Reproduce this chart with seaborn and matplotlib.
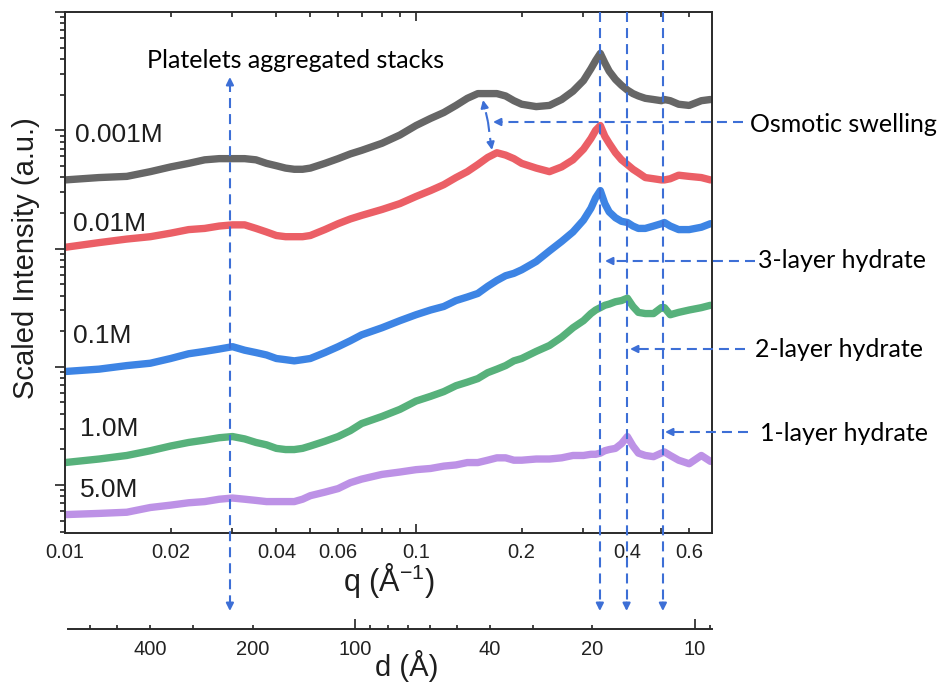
import numpy as np
import pandas as pd
import matplotlib
matplotlib.use("Agg")
import matplotlib.pyplot as plt
import seaborn as sns
from matplotlib.ticker import FixedLocator, FixedFormatter, LogLocator, NullFormatter
from matplotlib.transforms import blended_transform_factory

# ---------------- data ----------------
q = [0.0100, 0.0125, 0.0150, 0.0175, 0.020, 0.0225, 0.025, 0.0275, 0.030, 0.0325,
     0.035, 0.0375, 0.040, 0.0425, 0.045, 0.0475, 0.050, 0.055, 0.060, 0.065,
     0.070, 0.080, 0.090, 0.100, 0.110, 0.120, 0.130, 0.140, 0.150, 0.160,
     0.170, 0.180, 0.190, 0.200, 0.220, 0.240, 0.260, 0.280, 0.300, 0.315,
     0.325, 0.335, 0.345, 0.355, 0.370, 0.385, 0.400, 0.415, 0.430, 0.450,
     0.475, 0.500, 0.510, 0.530, 0.560, 0.600, 0.650, 0.690]

# log10 of scaled intensity (a.u.)
log_I_0001M = [2.58, 2.60, 2.61, 2.65, 2.69, 2.72, 2.75, 2.76, 2.76, 2.76,
               2.75, 2.72, 2.70, 2.68, 2.67, 2.67, 2.68, 2.72, 2.76, 2.80,
               2.83, 2.89, 2.96, 3.04, 3.10, 3.15, 3.21, 3.27, 3.31, 3.31,
               3.31, 3.29, 3.25, 3.22, 3.20, 3.21, 3.26, 3.33, 3.42, 3.52,
               3.59, 3.65, 3.57, 3.50, 3.43, 3.38, 3.34, 3.31, 3.29, 3.27,
               3.26, 3.25, 3.26, 3.25, 3.22, 3.21, 3.25, 3.26]
log_I_001M = [2.01, 2.05, 2.08, 2.10, 2.13, 2.16, 2.17, 2.19, 2.20, 2.20,
              2.17, 2.14, 2.11, 2.10, 2.10, 2.10, 2.11, 2.16, 2.21, 2.25,
              2.28, 2.33, 2.38, 2.44, 2.49, 2.54, 2.60, 2.65, 2.71, 2.77,
              2.81, 2.79, 2.76, 2.72, 2.68, 2.65, 2.69, 2.75, 2.84, 2.93,
              3.00, 3.04, 2.95, 2.89, 2.81, 2.75, 2.71, 2.67, 2.64, 2.60,
              2.59, 2.58, 2.58, 2.59, 2.62, 2.61, 2.60, 2.58]
log_I_01M = [0.96, 0.98, 1.01, 1.03, 1.07, 1.11, 1.13, 1.15, 1.17, 1.14,
             1.12, 1.10, 1.07, 1.06, 1.05, 1.06, 1.07, 1.12, 1.17, 1.22,
             1.27, 1.33, 1.39, 1.44, 1.48, 1.51, 1.56, 1.59, 1.62, 1.68,
             1.73, 1.77, 1.79, 1.82, 1.89, 1.98, 2.06, 2.14, 2.24, 2.34,
             2.43, 2.49, 2.38, 2.31, 2.26, 2.23, 2.22, 2.19, 2.17, 2.17,
             2.19, 2.21, 2.22, 2.19, 2.16, 2.16, 2.18, 2.21]
log_I_1M = [0.19, 0.22, 0.25, 0.29, 0.33, 0.36, 0.38, 0.40, 0.41, 0.39,
            0.36, 0.34, 0.31, 0.30, 0.30, 0.31, 0.33, 0.37, 0.41, 0.46,
            0.52, 0.58, 0.64, 0.71, 0.75, 0.79, 0.84, 0.87, 0.90, 0.95,
            0.98, 1.01, 1.05, 1.07, 1.13, 1.18, 1.25, 1.33, 1.39, 1.45,
            1.48, 1.50, 1.52, 1.53, 1.55, 1.56, 1.58, 1.51, 1.46, 1.45,
            1.45, 1.50, 1.50, 1.44, 1.46, 1.48, 1.50, 1.52]
log_I_5M = [-0.25, -0.24, -0.23, -0.19, -0.17, -0.15, -0.14, -0.12, -0.11, -0.12,
            -0.13, -0.14, -0.14, -0.14, -0.14, -0.12, -0.09, -0.06, -0.03, 0.02,
            0.05, 0.09, 0.11, 0.13, 0.14, 0.16, 0.17, 0.19, 0.19, 0.21,
            0.23, 0.23, 0.21, 0.21, 0.22, 0.22, 0.23, 0.25, 0.25, 0.26,
            0.26, 0.27, 0.29, 0.30, 0.31, 0.35, 0.41, 0.33, 0.27, 0.25,
            0.24, 0.27, 0.28, 0.25, 0.21, 0.18, 0.25, 0.20]

samples = ["0.001M", "0.01M", "0.1M", "1.0M", "5.0M"]
colors = ["#4b4b4b", "#e8434b", "#1b6fe0", "#39a464", "#b27fe2"]

q_ticks_major = [0.01, 0.1]
q_major_labels = ["0.01", "0.1"]
q_ticks_minor = [0.02, 0.03, 0.04, 0.05, 0.06, 0.07, 0.08, 0.09, 0.2, 0.3, 0.4, 0.5, 0.6]
q_minor_labels = ["0.02", "", "0.04", "", "0.06", "", "", "", "0.2", "", "0.4", "", "0.6"]
d_ticks_major = [10, 100]
d_major_labels = ["10", "100"]
d_ticks_minor = [9, 20, 30, 40, 50, 60, 70, 80, 90, 200, 300, 400, 500, 600]
d_minor_labels = ["", "20", "", "40", "", "", "", "", "", "200", "", "400", "", ""]
q_limits = (0.01, 0.697)
I_limits = (0.393, 1e4)
d_limits = (698, 8.9)

platelet_q = 0.0295
hydrate_q = {"3-layer": 0.334, "2-layer": 0.398, "1-layer": 0.505}

logs = [log_I_0001M, log_I_001M, log_I_01M, log_I_1M, log_I_5M]
df = pd.concat([pd.DataFrame({"q": q, "intensity": np.power(10.0, v), "sample": s})
                for s, v in zip(samples, logs)], ignore_index=True)

# ---------------- style ----------------
sns.set_theme(style="ticks")
plt.rcParams["font.family"] = ["Liberation Sans", "DejaVu Sans"]
plt.rcParams["mathtext.fontset"] = "custom"
plt.rcParams["mathtext.rm"] = "Liberation Sans"
plt.rcParams["mathtext.default"] = "regular"

W, H = 941, 684
fig = plt.figure(figsize=(W / 100, H / 100), dpi=100)
fig.patch.set_facecolor("white")

ax = fig.add_axes([65 / W, 1 - 533 / H, 647 / W, 521 / H])
sns.lineplot(data=df, x="q", y="intensity", hue="sample", hue_order=samples,
             palette=colors, linewidth=5.3, alpha=0.85, estimator=None, sort=False,
             legend=False, ax=ax)
for ln in ax.get_lines():
    ln.set_solid_joinstyle("round")
    ln.set_solid_capstyle("round")

ax.set_xscale("log")
ax.set_yscale("log")
ax.set_xlim(q_limits)
ax.set_ylim(I_limits)
ax.set_xlabel("")
ax.set_ylabel("")

ax.xaxis.set_major_locator(FixedLocator(q_ticks_major))
ax.xaxis.set_major_formatter(FixedFormatter(q_major_labels))
ax.xaxis.set_minor_locator(FixedLocator(q_ticks_minor))
ax.xaxis.set_minor_formatter(FixedFormatter(q_minor_labels))
ax.tick_params(axis="x", which="both", direction="in", top=True, bottom=True,
               labelsize=14.5, pad=7, colors="#222222", width=1.2)
ax.tick_params(axis="x", which="major", length=6.5)
ax.tick_params(axis="x", which="minor", length=3.6)

ax.yaxis.set_major_locator(LogLocator(base=10, numticks=12))
ax.yaxis.set_minor_locator(LogLocator(base=10, subs=np.arange(2, 10), numticks=12))
ax.yaxis.set_major_formatter(NullFormatter())
ax.yaxis.set_minor_formatter(NullFormatter())
ax.tick_params(axis="y", which="both", direction="out", left=True, right=False,
               labelleft=False, colors="#222222", width=1.2)
ax.tick_params(axis="y", which="major", length=7.2)
ax.tick_params(axis="y", which="minor", length=3.6)
for sp in ax.spines.values():
    sp.set_linewidth(1.4)
    sp.set_color("#2a2a2a")

# ---------------- secondary d axis ----------------
axd = fig.add_axes([68 / W, 1 - 629 / H, 644 / W, 8 / H])
axd.set_xscale("log")
axd.set_xlim(d_limits)
axd.set_ylim(0, 1)
axd.patch.set_visible(False)
for s in ["top", "left", "right"]:
    axd.spines[s].set_visible(False)
axd.spines["bottom"].set_linewidth(1.4)
axd.spines["bottom"].set_color("#2a2a2a")
axd.yaxis.set_visible(False)
axd.xaxis.set_major_locator(FixedLocator(d_ticks_major))
axd.xaxis.set_major_formatter(FixedFormatter(d_major_labels))
axd.xaxis.set_minor_locator(FixedLocator(d_ticks_minor))
axd.xaxis.set_minor_formatter(FixedFormatter(d_minor_labels))
axd.tick_params(axis="x", which="both", direction="in", labelsize=14.5, pad=8,
                colors="#222222", width=1.2)
axd.tick_params(axis="x", which="major", length=7.2)
axd.tick_params(axis="x", which="minor", length=3.0)

# ---------------- overlay for annotations (pixel coordinates) ----------------
ov = fig.add_axes([0, 0, 1, 1], zorder=10)
ov.set_xlim(0, W)
ov.set_ylim(H, 0)
ov.set_autoscale_on(False)
ov.axis("off")
bt = blended_transform_factory(ax.transData, ov.transData)

acol = "#3d6fd6"
dash = (0, (4.8, 2.9))
anno_font = ["Lato", "DejaVu Sans"]


def dashed(xs, ys, transform=None):
    ov.plot(xs, ys, color=acol, lw=1.5, ls=dash, transform=transform or ov.transData,
            solid_capstyle="butt", dash_capstyle="butt", clip_on=False)


def head(x, y, dx, dy, coords=None):
    ov.annotate("", xy=(x, y), xycoords=coords or ov.transData,
                xytext=(dx, dy), textcoords="offset points",
                arrowprops=dict(arrowstyle="-|>", color=acol, lw=1.5,
                                mutation_scale=11, shrinkA=0, shrinkB=0))


# vertical hydrate lines
for name, qv in hydrate_q.items():
    dashed([qv, qv], [12, 606], transform=bt)
    head(qv, 611, 0, 6, coords=bt)

# platelets double arrow
dashed([platelet_q, platelet_q], [82, 606], transform=bt)
head(platelet_q, 77, 0, -6, coords=bt)
head(platelet_q, 611, 0, 6, coords=bt)

# horizontal arrows
dashed([743, 497], [122, 122])
head(493, 122, 6, 0)
dashed([755, 609], [261, 261])
head(605, 261, 6, 0)
dashed([745, 634], [349, 349])
head(630, 349, 6, 0)
dashed([748, 669], [432, 432])
head(665, 432, 6, 0)

# osmotic swelling shift arrows
dashed([488, 484], [122, 104])
head(483, 100, 1.2, -6)
dashed([488, 491], [122, 145])
head(492, 150, -1.0, 6)

# annotation texts
anno_size = 18
ov.text(147, 68, "Platelets aggregated stacks", fontsize=anno_size, family=anno_font,
        ha="left", va="baseline", color="black")
ov.text(750, 132, "Osmotic swelling", fontsize=anno_size, family=anno_font,
        ha="left", va="baseline", color="black")
ov.text(758, 268, "3-layer hydrate", fontsize=anno_size, family=anno_font,
        ha="left", va="baseline", color="black")
ov.text(755, 357, "2-layer hydrate", fontsize=anno_size, family=anno_font,
        ha="left", va="baseline", color="black")
ov.text(760, 441, "1-layer hydrate", fontsize=anno_size, family=anno_font,
        ha="left", va="baseline", color="black")

# curve labels
label_pos = [(75, 142), (73, 231), (73, 343), (80, 436), (80, 497)]
for s, (x, y) in zip(samples, label_pos):
    ov.text(x, y, s, fontsize=19, ha="left", va="baseline", color="#1e1e1e")

# axis labels
ov.text(389, 591, "q (Å$^{-1}$)", fontsize=22, ha="center", va="baseline", color="#1e1e1e")
ov.text(375, 676, "d (Å)", fontsize=21, ha="left", va="baseline", color="#1e1e1e")
ov.text(26, 258, "Scaled Intensity (a.u.)", fontsize=21, rotation=90,
        ha="center", va="center", color="#1e1e1e")

fig.savefig("out.png", dpi=100)
